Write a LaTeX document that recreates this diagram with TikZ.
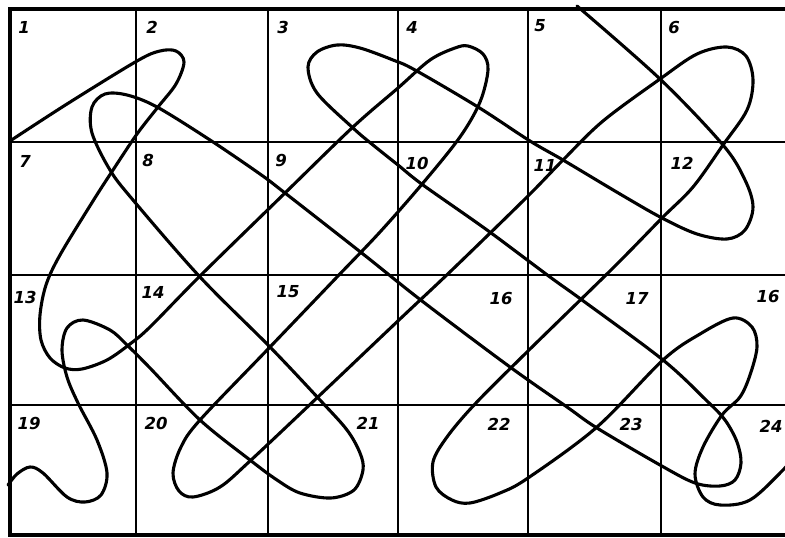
\documentclass[tikz,border=0pt]{standalone}
\usepackage{fontspec}
\newfontfamily\numfont{DejaVu Sans}
\begin{document}
\begin{tikzpicture}[x=1pt,y=-1pt,
  gridline/.style={line width=2.8pt},
  borderline/.style={line width=3.8pt},
  curve/.style={line width=3.1pt, line join=round, line cap=round},
  lbl/.style={font=\numfont\bfseries\itshape\fontsize{16.5}{16.5}\selectfont, inner sep=0pt}]
\useasboundingbox (0,0) rectangle (785,538);
\clip (0,0) rectangle (785,538);
\fill[white] (0,0) rectangle (785,538);
% grid
\foreach \x in {136,268,398,528,661} \draw[gridline] (\x,9) -- (\x,535);
\foreach \y in {142,275,405} \draw[gridline] (10,\y) -- (790,\y);
\draw[borderline] (790,9) -- (10,9) -- (10,535) -- (790,535);
% labels
\node[lbl] (n1) at (24,27) {1};
\node[lbl] (n2) at (152,27) {2};
\node[lbl] (n3) at (283,27) {3};
\node[lbl] (n4) at (412,27) {4};
\node[lbl] (n5) at (540,26) {5};
\node[lbl] (n6) at (674,28) {6};
\node[lbl] (n7) at (25,161) {7};
\node[lbl] (n8) at (148,160) {8};
\node[lbl] (n9) at (281,161) {9};
\node[lbl] (n10) at (417,163) {10};
\node[lbl] (n11) at (545,165) {11};
\node[lbl] (n12) at (682,163) {12};
\node[lbl] (n13) at (25,297) {13};
\node[lbl] (n14) at (153,292) {14};
\node[lbl] (n15) at (288,292) {15};
\node[lbl] (n16) at (501,299) {16};
\node[lbl] (n17) at (637,298) {17};
\node[lbl] (n18) at (768,297) {16};
\node[lbl] (n19) at (29,424) {19};
\node[lbl] (n20) at (156,423) {20};
\node[lbl] (n21) at (368,423) {21};
\node[lbl] (n22) at (499,424) {22};
\node[lbl] (n23) at (631,424) {23};
\node[lbl] (n24) at (771,426) {24};
% curve A (south-west to north-east strokes)
\draw[curve] plot[smooth, tension=0.55] coordinates {
(10,141) (67,104) (137,61) (160,51) (176,51) (184,62) (176,84) (158,107) (137,134) (113,170) (93,201)
(60,255) (46,285) (40,315) (41,340) (50,358) (65,368) (82,369) (107,360) (130,344) (150,327)
(200,276) (285,193) (353,127) (398,88) (430,60) (455,48) (468,46) (483,54) (488,70) (480,102) (460,137)
(423,183) (380,232) (337,277) (270,347) (200,420) (181,447) (173,473) (179,491) (193,497) (220,487)
(250,461) (320,395) (400,319) (453,269) (527,197) (563,160) (603,121) (660,79) (697,54) (727,47)
(746,56) (753,80) (747,110) (723,145) (693,187) (662,218) (613,268) (528,351) (475,404)
(447,437) (433,462) (436,487) (452,500) (470,503) (500,493) (528,478) (597,427) (663,360)
(700,334) (733,318) (752,327) (757,347) (750,375) (740,397) (722,415) (703,447) (695,474) (703,497)
(720,505) (750,500) (783,470) (800,450)};
% curve B (north-west to south-east strokes)
\draw[curve] plot[smooth, tension=0.55] coordinates {
(577,6) (660,79) (723,145) (745,180) (753,207) (745,230) (727,239) (697,234) (662,218) (620,194)
(563,160) (530,141) (478,107) (415,70) (393,60) (360,48) (337,45) (317,52) (308,67) (317,93)
(353,128) (373,145) (398,165) (423,185) (487,230) (550,277) (582,300) (663,360) (707,401) (725,420)
(737,442) (741,463) (735,480) (720,486) (695,483) (660,465) (597,428) (567,407) (510,367) (422,301)
(363,254) (285,193) (260,174) (210,140) (157,107) (127,95) (105,94) (92,107) (92,133)
(110,170) (133,200) (200,277) (270,347) (320,400) (347,430) (360,453) (363,470) (354,490) (331,498)
(300,493) (277,480) (250,460) (200,420) (150,368) (127,345) (110,330) (83,320) (67,328) (62,350)
(67,377) (78,403) (97,440) (107,473) (101,495) (85,502) (67,497) (43,473) (30,467) (17,474) (8,485)};
\end{tikzpicture}
\end{document}
